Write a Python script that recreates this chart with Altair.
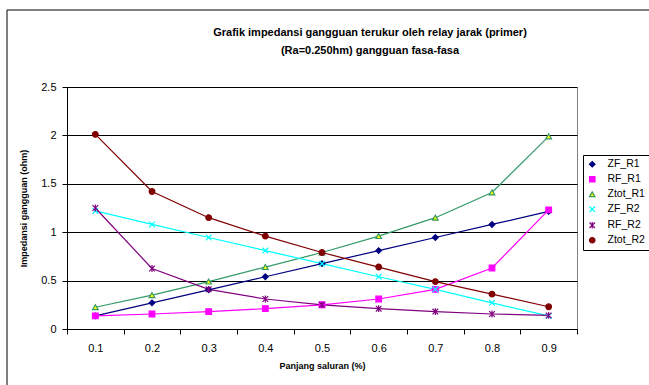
import altair as alt
import pandas as pd

x_labels = ["0.1", "0.2", "0.3", "0.4", "0.5", "0.6", "0.7", "0.8", "0.9"]
series_names = ["ZF_R1", "RF_R1", "Ztot_R1", "ZF_R2", "RF_R2", "Ztot_R2"]
zf_r1 = [0.135, 0.27, 0.405, 0.54, 0.675, 0.81, 0.945, 1.08, 1.215]
rf_r1 = [0.135, 0.155, 0.18, 0.21, 0.25, 0.31, 0.41, 0.63, 1.23]
ztot_r1 = [0.225, 0.35, 0.49, 0.64, 0.79, 0.96, 1.15, 1.41, 1.99]
zf_r2 = [1.22, 1.08, 0.945, 0.81, 0.675, 0.54, 0.41, 0.27, 0.135]
rf_r2 = [1.25, 0.625, 0.41, 0.31, 0.25, 0.21, 0.18, 0.155, 0.14]
ztot_r2 = [2.01, 1.42, 1.15, 0.96, 0.79, 0.64, 0.49, 0.36, 0.23]

stroke_colors = ["#000080", "#FF00FF", "#339966", "#00FFFF", "#800080", "#800000"]
fill_colors = ["#000080", "#FF00FF", "#FFFF00", "transparent", "transparent", "#800000"]
shapes = ["diamond", "square", "triangle-up",
          "M-1,-1L1,1M1,-1L-1,1",
          "M-1,-1L1,1M1,-1L-1,1M0,-1.2L0,1.2",
          "circle"]

rows = []
for name, vals in zip(series_names, [zf_r1, rf_r1, ztot_r1, zf_r2, rf_r2, ztot_r2]):
    for xl, v in zip(x_labels, vals):
        rows.append({"x": xl, "value": v, "series": name})
df = pd.DataFrame(rows)

FONT = "Liberation Sans"

xenc = alt.X("x:O", sort=x_labels,
             scale=alt.Scale(paddingInner=0, paddingOuter=0),
             axis=alt.Axis(title="Panjang saluran (%)", labelAngle=0, tickBand="extent",
                           labelFontSize=11, labelPadding=8, titleFontSize=9,
                           titleFontWeight="bold", titlePadding=8,
                           domainColor="black", tickColor="black", tickSize=5,
                           labelColor="black", titleColor="black", grid=False))
yenc = alt.Y("value:Q",
             scale=alt.Scale(domain=[0, 2.5], nice=False),
             axis=alt.Axis(title="Impedansi gangguan (ohm)", values=[0, 0.5, 1, 1.5, 2, 2.5],
                           format="~g", labelFontSize=11, labelPadding=6, titleFontSize=9,
                           titleFontWeight="bold", titlePadding=12,
                           domainColor="black", tickColor="black", tickSize=5,
                           gridColor="black", gridWidth=1,
                           labelColor="black", titleColor="black"))

stroke_scale = alt.Scale(domain=series_names, range=stroke_colors)
fill_scale = alt.Scale(domain=series_names, range=fill_colors)
shape_scale = alt.Scale(domain=series_names, range=shapes)

legend = alt.Legend(title=None, orient="none", legendX=516, legendY=68,
                    strokeColor="black", fillColor="white", padding=4,
                    labelFontSize=10.5, labelColor="black", symbolSize=30,
                    symbolStrokeWidth=1.2, rowPadding=4, labelOffset=10)

border = alt.Chart(pd.DataFrame({"a": [0]})).mark_rect(
    fill="transparent", stroke="black", strokeWidth=1
).encode(x=alt.value(-60), x2=alt.value(640), y=alt.value(-77), y2=alt.value(320))

lines = alt.Chart(df).mark_line(strokeWidth=1.2).encode(
    x=xenc, y=yenc,
    stroke=alt.Stroke("series:N", scale=stroke_scale, legend=legend, sort=series_names),
    detail="series:N",
)
points = alt.Chart(df).mark_point(size=32, strokeWidth=1.2, opacity=1).encode(
    x=xenc, y=yenc,
    stroke=alt.Stroke("series:N", scale=stroke_scale, legend=legend, sort=series_names),
    fill=alt.Fill("series:N", scale=fill_scale, legend=legend, sort=series_names),
    shape=alt.Shape("series:N", scale=shape_scale, legend=legend, sort=series_names),
)

chart = alt.layer(border, lines, points).properties(
    width=510, height=242,
    title=alt.TitleParams(
        text=["Grafik impedansi gangguan terukur oleh relay jarak (primer)",
              "(Ra=0.250hm) gangguan fasa-fasa"],
        fontSize=11, fontWeight="bold", font=FONT, color="black",
        anchor="middle", frame="group", dx=48, offset=-46, lineHeight=18),
    autosize=alt.AutoSizeParams(type="none"),
    padding={"left": 67, "top": 87, "right": 72, "bottom": 56},
).configure(font=FONT, background="white").configure_view(
    stroke="#808080", strokeWidth=1
).configure_axis(labelFont=FONT, titleFont=FONT).configure_legend(labelFont=FONT)

chart.save("out.html", embed_options={"renderer": "svg", "actions": False})
